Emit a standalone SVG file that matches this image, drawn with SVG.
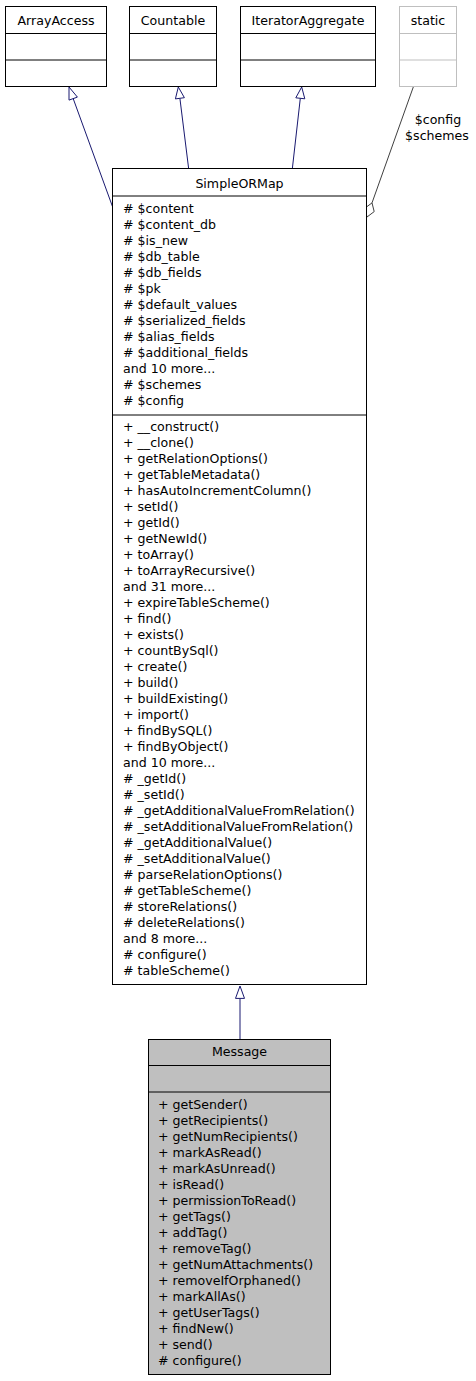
<svg xmlns="http://www.w3.org/2000/svg" width="476" height="1381" viewBox="0 0 476 1381">
<style>
text{font-family:"DejaVu Sans","Liberation Sans",sans-serif;font-size:12.6px;fill:#000}
.c{text-anchor:middle}
.box{fill:#fff;stroke:#000;stroke-width:1}
.gbox{fill:#fff;stroke:#bfbfbf;stroke-width:1}
.msg{fill:#bfbfbf;stroke:#000;stroke-width:1}
.div{stroke:#000;stroke-width:1}
.gdiv{stroke:#bfbfbf;stroke-width:1}
.inh{stroke:#191970;stroke-width:1;fill:none}
.head{stroke:#191970;stroke-width:1;fill:#fff}
.use{stroke:#404040;stroke-width:1;fill:none}
</style>
<rect width="476" height="1381" fill="#fff"/>
<g id="connectors">
  <path class="inh" d="M113,208 L73.2,98.6"/>
  <polygon class="head" points="69,87 77.4,97.1 69,100.1"/>
  <path class="inh" d="M188.7,169 L179.9,98.3"/>
  <polygon class="head" points="178.3,87 184.4,97.7 175.4,98.9"/>
  <path class="inh" d="M292.3,169 L300.3,98.3"/>
  <polygon class="head" points="301.7,87 304.8,98.8 295.8,97.8"/>
  <path class="inh" d="M240,1039 L240,998.4"/>
  <polygon class="head" points="240,986 244.5,998.4 235.5,998.4"/>
  <path class="use" d="M413.3,87 L372,202.9"/>
  <polygon class="use" fill="#fff" points="367,217 364.8,208.2 372,202.9 374.2,211.6"/>
  <text class="c" x="438" y="124">$config</text>
  <text class="c" x="437" y="140">$schemes</text>
</g>
<g id="ArrayAccess">
  <rect class="box" x="5.5" y="6.5" width="101" height="80"/>
  <line class="div" x1="5.5" y1="33.5" x2="106.5" y2="33.5"/>
  <line class="div" x1="5.5" y1="60" x2="106.5" y2="60"/>
  <text class="c" x="56" y="24.5">ArrayAccess</text>
</g>
<g id="Countable">
  <rect class="box" x="129.5" y="6.5" width="87" height="80"/>
  <line class="div" x1="129.5" y1="33.5" x2="216.5" y2="33.5"/>
  <line class="div" x1="129.5" y1="60" x2="216.5" y2="60"/>
  <text class="c" x="173" y="24.5">Countable</text>
</g>
<g id="IteratorAggregate">
  <rect class="box" x="240.5" y="6.5" width="135" height="80"/>
  <line class="div" x1="240.5" y1="33.5" x2="375.5" y2="33.5"/>
  <line class="div" x1="240.5" y1="60" x2="375.5" y2="60"/>
  <text class="c" x="308" y="24.5">IteratorAggregate</text>
</g>
<g id="static">
  <rect class="gbox" x="399.5" y="6.5" width="57" height="80"/>
  <line class="gdiv" x1="399.5" y1="33.5" x2="456.5" y2="33.5"/>
  <line class="gdiv" x1="399.5" y1="60" x2="456.5" y2="60"/>
  <text class="c" x="428" y="24.5">static</text>
</g>
<g id="SimpleORMap">
  <rect class="box" x="112.5" y="168.5" width="254" height="816"/>
  <line class="div" x1="112.5" y1="196" x2="366.5" y2="196"/>
  <line class="div" x1="112.5" y1="415" x2="366.5" y2="415"/>
  <text class="c" x="239.5" y="187.5">SimpleORMap</text>
  <text x="123" y="213"># $content</text>
  <text x="123" y="229"># $content_db</text>
  <text x="123" y="245"># $is_new</text>
  <text x="123" y="261"># $db_table</text>
  <text x="123" y="277"># $db_fields</text>
  <text x="123" y="293"># $pk</text>
  <text x="123" y="309"># $default_values</text>
  <text x="123" y="325"># $serialized_fields</text>
  <text x="123" y="341"># $alias_fields</text>
  <text x="123" y="357"># $additional_fields</text>
  <text x="123" y="373">and 10 more...</text>
  <text x="123" y="389"># $schemes</text>
  <text x="123" y="405"># $config</text>
  <text x="123" y="431">+ __construct()</text>
  <text x="123" y="447">+ __clone()</text>
  <text x="123" y="463">+ getRelationOptions()</text>
  <text x="123" y="479">+ getTableMetadata()</text>
  <text x="123" y="495">+ hasAutoIncrementColumn()</text>
  <text x="123" y="511">+ setId()</text>
  <text x="123" y="527">+ getId()</text>
  <text x="123" y="543">+ getNewId()</text>
  <text x="123" y="559">+ toArray()</text>
  <text x="123" y="575">+ toArrayRecursive()</text>
  <text x="123" y="591">and 31 more...</text>
  <text x="123" y="607">+ expireTableScheme()</text>
  <text x="123" y="623">+ find()</text>
  <text x="123" y="639">+ exists()</text>
  <text x="123" y="655">+ countBySql()</text>
  <text x="123" y="671">+ create()</text>
  <text x="123" y="687">+ build()</text>
  <text x="123" y="703">+ buildExisting()</text>
  <text x="123" y="719">+ import()</text>
  <text x="123" y="735">+ findBySQL()</text>
  <text x="123" y="751">+ findByObject()</text>
  <text x="123" y="767">and 10 more...</text>
  <text x="123" y="783"># _getId()</text>
  <text x="123" y="799"># _setId()</text>
  <text x="123" y="815"># _getAdditionalValueFromRelation()</text>
  <text x="123" y="831"># _setAdditionalValueFromRelation()</text>
  <text x="123" y="847"># _getAdditionalValue()</text>
  <text x="123" y="863"># _setAdditionalValue()</text>
  <text x="123" y="879"># parseRelationOptions()</text>
  <text x="123" y="895"># getTableScheme()</text>
  <text x="123" y="911"># storeRelations()</text>
  <text x="123" y="927"># deleteRelations()</text>
  <text x="123" y="943">and 8 more...</text>
  <text x="123" y="959"># configure()</text>
  <text x="123" y="975"># tableScheme()</text>
</g>
<g id="Message">
  <rect class="msg" x="148.5" y="1039.5" width="182" height="335"/>
  <line class="div" x1="148.5" y1="1065.5" x2="330.5" y2="1065.5"/>
  <line class="div" x1="148.5" y1="1092" x2="330.5" y2="1092"/>
  <text class="c" x="239.5" y="1056">Message</text>
  <text x="158" y="1109">+ getSender()</text>
  <text x="158" y="1125">+ getRecipients()</text>
  <text x="158" y="1141">+ getNumRecipients()</text>
  <text x="158" y="1157">+ markAsRead()</text>
  <text x="158" y="1173">+ markAsUnread()</text>
  <text x="158" y="1189">+ isRead()</text>
  <text x="158" y="1205">+ permissionToRead()</text>
  <text x="158" y="1221">+ getTags()</text>
  <text x="158" y="1237">+ addTag()</text>
  <text x="158" y="1253">+ removeTag()</text>
  <text x="158" y="1269">+ getNumAttachments()</text>
  <text x="158" y="1285">+ removeIfOrphaned()</text>
  <text x="158" y="1301">+ markAllAs()</text>
  <text x="158" y="1317">+ getUserTags()</text>
  <text x="158" y="1333">+ findNew()</text>
  <text x="158" y="1349">+ send()</text>
  <text x="158" y="1365"># configure()</text>
</g>
</svg>
